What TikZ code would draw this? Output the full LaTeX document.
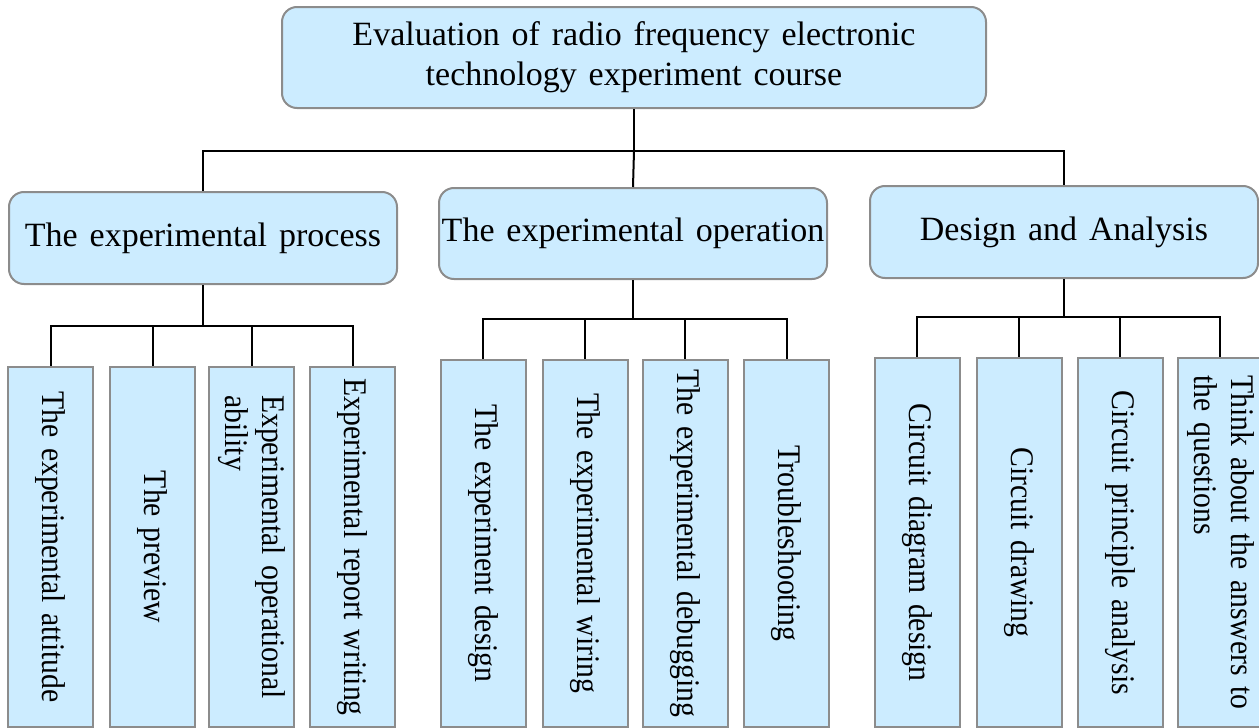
\documentclass[tikz,border=0pt]{standalone}
\usepackage{fontspec}
\usepackage{graphicx}
\setmainfont{Liberation Serif}[WordSpace=1.4]
\newfontfamily\leaffont{Liberation Serif}[FakeStretch=0.9,WordSpace=1.4]
\definecolor{boxfill}{RGB}{204,236,255}
\definecolor{boxline}{RGB}{140,140,140}
\tikzset{
  rootbox/.style={draw=boxline, line width=2pt, fill=boxfill, rounded corners=15pt,
    inner sep=0pt, align=center, font=\fontsize{34}{40}\selectfont},
  midbox/.style={draw=boxline, line width=2pt, fill=boxfill, rounded corners=15pt,
    inner sep=0pt, minimum width=388pt, font=\fontsize{34}{40}\selectfont},
  leafbox/.style={draw=boxline, line width=2pt, fill=boxfill, inner sep=0pt,
    minimum width=85pt, font=\leaffont\fontsize{33}{37}\selectfont},
  link/.style={draw=black, line width=2pt},
}
\newcommand{\vtext}[1]{\rotatebox{-90}{#1}}
\newcommand{\vtwo}[2]{\rotatebox{-90}{\begin{tabular}{@{}l@{}}#1\\#2\end{tabular}}}
\begin{document}
\begin{tikzpicture}[x=1pt,y=-1pt]
\useasboundingbox (0,0) rectangle (1259,728);
\clip (0,0) rectangle (1259,728);

% root
\node[rootbox, minimum width=704pt, minimum height=101pt] (root) at (634,57.5)
  {Evaluation of radio frequency electronic\\technology experiment course};

% second level
\node[midbox, minimum height=92pt] (m1) at (203,238) {The experimental process};
\node[midbox, minimum height=91pt] (m2) at (633,233.5) {The experimental operation};
\node[midbox, minimum height=92pt] (m3) at (1064,232) {Design and Analysis};

% leaves under the experimental process
\node[leafbox, minimum height=360pt] (a1) at (50.5,547) {\vtext{The experimental attitude}};
\node[leafbox, minimum height=360pt] (a2) at (152.5,547) {\vtext{The preview}};
\node[leafbox, minimum height=360pt] (a3) at (251.5,547) {\vtwo{Experimental operational}{ability}};
\node[leafbox, minimum height=360pt] (a4) at (352.5,547) {\vtext{Experimental report writing}};

% leaves under the experimental operation
\node[leafbox, minimum height=367pt] (b1) at (483,543.5) {\vtext{The experiment design}};
\node[leafbox, minimum height=367pt] (b2) at (585,543.5) {\vtext{The experimental wiring}};
\node[leafbox, minimum height=367pt] (b3) at (685,543.5) {\vtext{The experimental debugging}};
\node[leafbox, minimum height=367pt] (b4) at (786.5,543.5) {\vtext{Troubleshooting}};

% leaves under design and analysis
\node[leafbox, minimum height=369pt] (c1) at (917,542.5) {\vtext{Circuit diagram design}};
\node[leafbox, minimum height=369pt] (c2) at (1019,542.5) {\vtext{Circuit drawing}};
\node[leafbox, minimum height=369pt] (c3) at (1120,542.5) {\vtext{Circuit principle analysis}};
\node[leafbox, minimum height=369pt] (c4) at (1220,542.5) {\vtwo{Think about the answers to}{the questions}};

% junctions of the bus lines
\coordinate (j0) at (634,151);
\coordinate (j1) at (203,326);
\coordinate (j2) at (633,319);
\coordinate (j3) at (1064,317);

% connectors
\draw[link] (root.south) -- (j0);
\draw[link] (j0) -| (m1.north);
\draw[link] (j0) -- (m2.north);
\draw[link] (j0) -| (m3.north);

\draw[link] (m1.south) -- (j1);
\foreach \n in {a1,a2,a3,a4} \draw[link] (j1) -| (\n.north);
\draw[link] (m2.south) -- (j2);
\foreach \n in {b1,b2,b3,b4} \draw[link] (j2) -| (\n.north);
\draw[link] (m3.south) -- (j3);
\foreach \n in {c1,c2,c3,c4} \draw[link] (j3) -| (\n.north);
\end{tikzpicture}
\end{document}
